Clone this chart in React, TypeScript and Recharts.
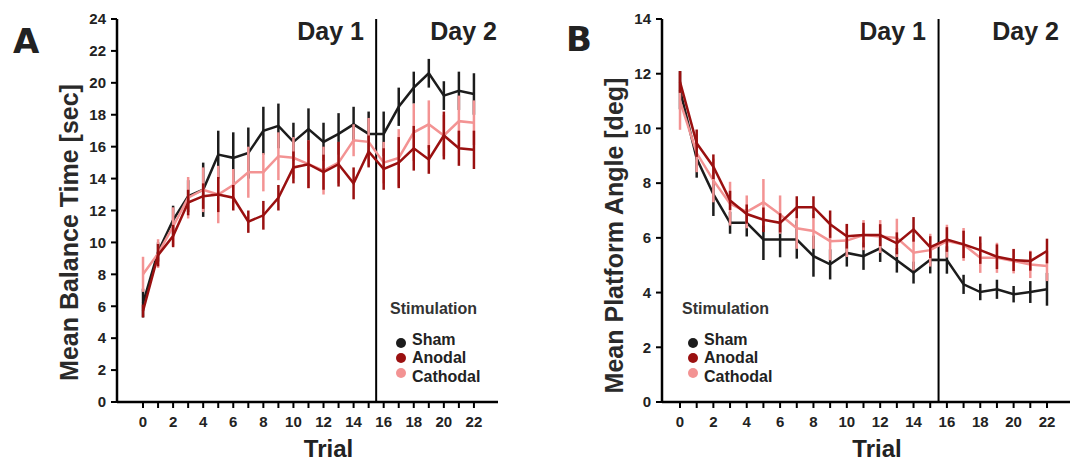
import { LineChart, Line, XAxis, YAxis, ErrorBar, ReferenceLine, Legend } from 'recharts';

const trials = [0, 1, 2, 3, 4, 5, 6, 7, 8, 9, 10, 11, 12, 13, 14, 15, 16, 17, 18, 19, 20, 21, 22];
const labeledTrials = [0, 2, 4, 6, 8, 10, 12, 14, 16, 18, 20, 22];
const balanceTicks = [0, 2, 4, 6, 8, 10, 12, 14, 16, 18, 20, 22, 24];
const angleTicks = [0, 2, 4, 6, 8, 10, 12, 14];
const dayBreak = 15.5;

const groups = ['Sham', 'Anodal', 'Cathodal'];
const groupColors = ['#1c1c1c', '#9a1010', '#f39393'];

// panel A: mean balance time [sec]
const balanceSham = [6.2, 9.4, 11.4, 12.9, 13.3, 15.5, 15.3, 15.6, 17.0, 17.3, 16.3, 17.1, 16.3, 16.8, 17.4, 16.8, 16.8, 18.5, 19.7, 20.6, 19.2, 19.5, 19.3];
const balanceShamErr = [0.9, 0.6, 0.9, 1.0, 1.7, 1.5, 1.6, 1.6, 1.5, 1.4, 1.2, 1.3, 1.2, 1.3, 1.1, 1.4, 1.4, 1.2, 1.0, 0.9, 0.9, 1.2, 1.3];
const balanceAnodal = [5.7, 9.2, 10.4, 12.5, 12.9, 13.0, 12.8, 11.3, 11.7, 12.8, 14.7, 14.9, 14.4, 14.9, 13.7, 15.7, 14.6, 15.0, 15.9, 15.2, 16.7, 15.9, 15.8];
const balanceAnodalErr = [0.4, 0.7, 0.7, 0.8, 0.8, 1.1, 0.8, 0.7, 0.9, 0.8, 1.0, 1.5, 1.1, 1.4, 1.0, 1.0, 1.3, 1.6, 1.4, 0.9, 1.5, 1.1, 1.2];
const balanceCathodal = [8.0, 9.3, 11.0, 12.8, 13.3, 13.0, 13.6, 14.4, 14.4, 15.4, 15.3, 14.9, 14.5, 15.0, 16.4, 16.3, 15.0, 15.3, 16.9, 17.4, 16.7, 17.6, 17.5];
const balanceCathodalErr = [1.1, 0.9, 1.2, 1.3, 1.4, 1.8, 1.0, 1.6, 1.2, 1.5, 1.3, 1.5, 1.5, 1.3, 1.0, 1.5, 1.3, 1.8, 1.8, 1.5, 1.3, 1.6, 1.4];

// panel B: mean platform angle [deg]
const angleSham = [11.4, 8.9, 7.6, 6.55, 6.55, 5.94, 5.94, 5.94, 5.33, 5.03, 5.45, 5.33, 5.62, 5.18, 4.73, 5.2, 5.19, 4.3, 4.02, 4.12, 3.94, 4.02, 4.12];
const angleShamErr = [0.7, 0.7, 0.8, 0.4, 0.5, 0.75, 0.65, 0.7, 0.75, 0.55, 0.5, 0.5, 0.5, 0.45, 0.4, 0.5, 0.5, 0.35, 0.3, 0.35, 0.3, 0.4, 0.6];
const angleAnodal = [11.7, 9.46, 8.6, 7.37, 6.87, 6.66, 6.55, 7.12, 7.12, 6.5, 6.06, 6.1, 6.1, 5.8, 6.31, 5.66, 5.94, 5.76, 5.55, 5.31, 5.19, 5.15, 5.52];
const angleAnodalErr = [0.4, 0.5, 0.45, 0.35, 0.35, 0.45, 0.35, 0.4, 0.4, 0.5, 0.45, 0.45, 0.4, 0.4, 0.45, 0.4, 0.45, 0.5, 0.5, 0.45, 0.4, 0.35, 0.45];
const angleCathodal = [11.0, 9.1, 8.1, 7.25, 6.95, 7.3, 6.85, 6.35, 6.25, 5.88, 5.9, 6.1, 6.05, 6.0, 5.46, 5.55, 5.88, 5.76, 5.27, 5.27, 5.15, 5.03, 4.97];
const angleCathodalErr = [1.05, 0.7, 0.8, 0.8, 0.6, 0.85, 0.7, 0.75, 0.65, 0.7, 0.6, 0.55, 0.6, 0.7, 0.65, 0.6, 0.6, 0.6, 0.55, 0.55, 0.45, 0.5, 0.55];

const buildRows = (s: number[], se: number[], a: number[], ae: number[], c: number[], ce: number[]) =>
  trials.map((t, i) => ({
    trial: t,
    sham: s[i], shamErr: se[i],
    anodal: a[i], anodalErr: ae[i],
    cathodal: c[i], cathodalErr: ce[i],
  }));

const balanceRows = buildRows(balanceSham, balanceShamErr, balanceAnodal, balanceAnodalErr, balanceCathodal, balanceCathodalErr);
const angleRows = buildRows(angleSham, angleShamErr, angleAnodal, angleAnodalErr, angleCathodal, angleCathodalErr);

const FONT = "'Liberation Sans', Arial, sans-serif";
const INK = '#222';
const tickStyle = { fill: INK, fontSize: 15, fontWeight: 700 };

function StimLegend() {
  // vertical centres relative to the legend box (text rows and dots are not aligned in the original)
  const rowText = [40, 58, 77];
  const rowDot = [43, 58, 73];
  return (
    <div style={{ position: 'relative', width: 120, height: 90, fontFamily: FONT }}>
      <div style={{ position: 'absolute', left: 0, top: 0, lineHeight: '18px', fontSize: 16, fontWeight: 700, color: '#333', whiteSpace: 'nowrap' }}>
        Stimulation
      </div>
      {groups.map((g, i) => (
        <div key={g}>
          <div style={{ position: 'absolute', left: 6, top: rowDot[i] - 5, width: 10, height: 10, borderRadius: 5, background: groupColors[i] }} />
          <div style={{ position: 'absolute', left: 22, top: rowText[i] - 9, lineHeight: '18px', fontSize: 16, fontWeight: 700, color: INK, whiteSpace: 'nowrap' }}>
            {g}
          </div>
        </div>
      ))}
    </div>
  );
}

type PanelProps = {
  rows: typeof balanceRows;
  width: number;
  yAxisWidth: number;
  marginRight: number;
  xDomain: [number, number];
  yDomain: [number, number];
  yTicks: number[];
  yLabel: string;
  yLabelOffset: number;
  yLabelDy: number;
  xLabelDx: number;
  legendLeft: number;
};

function Panel(p: PanelProps) {
  const seriesKeys = ['sham', 'cathodal', 'anodal'];
  return (
    <LineChart width={p.width} height={462} data={p.rows} margin={{ top: 19, right: p.marginRight, bottom: 0, left: 0 }}>
      <XAxis
        dataKey="trial"
        type="number"
        domain={p.xDomain}
        ticks={trials}
        interval={0}
        tickFormatter={(v: number) => (labeledTrials.includes(v) ? String(v) : '')}
        height={60}
        tickSize={6}
        tickMargin={8}
        axisLine={{ stroke: '#000', strokeWidth: 2.5 }}
        tickLine={{ stroke: '#000', strokeWidth: 2 }}
        tick={tickStyle}
        allowDataOverflow
        label={{ value: 'Trial', position: 'insideBottom', offset: 5, dx: p.xLabelDx, style: { fill: INK, fontSize: 24, fontWeight: 700 } }}
      />
      <YAxis
        type="number"
        domain={p.yDomain}
        ticks={p.yTicks}
        interval={0}
        width={p.yAxisWidth}
        tickSize={6}
        tickMargin={5}
        axisLine={{ stroke: '#000', strokeWidth: 2.5 }}
        tickLine={{ stroke: '#000', strokeWidth: 2 }}
        tick={tickStyle}
        label={{
          value: p.yLabel,
          angle: -90,
          position: 'insideLeft',
          offset: p.yLabelOffset,
          dy: p.yLabelDy,
          style: { textAnchor: 'middle', fill: '#2a2a2a', fontSize: 25, fontWeight: 700 },
        }}
      />
      <ReferenceLine x={dayBreak} stroke="#000" strokeWidth={2} />
      {seriesKeys.map((k) => {
        const color = groupColors[['sham', 'anodal', 'cathodal'].indexOf(k)];
        return (
          <Line
            key={k}
            dataKey={k}
            type="linear"
            stroke={color}
            strokeWidth={2.5}
            dot={false}
            activeDot={false}
            isAnimationActive={false}
          >
            <ErrorBar dataKey={k + 'Err'} width={0} stroke={color} strokeWidth={2.5} direction="y" />
          </Line>
        );
      })}
      <Legend
        layout="horizontal"
        verticalAlign="middle"
        align="center"
        content={() => <StimLegend />}
        wrapperStyle={{ left: p.legendLeft, top: 300, width: 120, height: 90 }}
      />
    </LineChart>
  );
}

export default function App() {
  return (
    <div style={{ position: 'absolute', left: 0, top: 0, width: 1076, height: 462, background: '#fff', fontFamily: FONT, overflow: 'hidden' }}>
      <div style={{ position: 'absolute', left: 0, top: 0 }}>
        <Panel
          rows={balanceRows}
          width={520}
          yAxisWidth={117}
          marginRight={22}
          xDomain={[-1.73, 23.6]}
          yDomain={[0, 24]}
          yTicks={balanceTicks}
          yLabel="Mean Balance Time [sec]"
          yLabelOffset={69}
          yLabelDy={22}
          xLabelDx={21}
          legendLeft={390}
        />
      </div>
      <div style={{ position: 'absolute', left: 540, top: 0 }}>
        <Panel
          rows={angleRows}
          width={536}
          yAxisWidth={122}
          marginRight={6}
          xDomain={[-1.08, 23.38]}
          yDomain={[0, 14]}
          yTicks={angleTicks}
          yLabel="Mean Platform Angle [deg]"
          yLabelOffset={74}
          yLabelDy={25}
          xLabelDx={11}
          legendLeft={142}
        />
      </div>
      <svg width={1076} height={462} style={{ position: 'absolute', left: 0, top: 0, pointerEvents: 'none' }}>
        <g fontFamily="'DejaVu Sans', sans-serif" fontWeight={700} fontSize={34} fill="#222">
          <text x={13} y={53}>A</text>
          <text x={566} y={51}>B</text>
        </g>
        <g fontFamily={FONT} fontWeight={700} fontSize={25} fill={INK} textAnchor="end">
          <text x={364} y={40}>Day 1</text>
          <text x={497} y={40}>Day 2</text>
          <text x={926} y={40}>Day 1</text>
          <text x={1059} y={40}>Day 2</text>
        </g>
      </svg>
    </div>
  );
}
